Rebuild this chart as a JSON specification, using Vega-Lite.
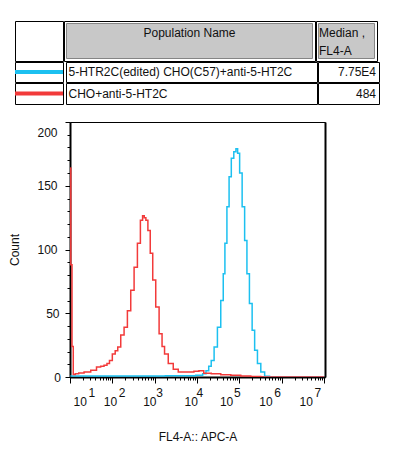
{
  "$schema": "https://vega.github.io/schema/vega-lite/v6.json",
  "padding": {"left": 8, "top": 20, "right": 5, "bottom": 5},
  "background": "white",
  "config": {
    "font": "Liberation Sans",
    "view": {"stroke": "black", "strokeWidth": 1},
    "text": {"font": "Liberation Sans", "fontSize": 12, "color": "#111111"},
    "axis": {
      "labelFont": "Liberation Sans", "titleFont": "Liberation Sans",
      "labelColor": "#111111", "titleColor": "#111111", "titleFontWeight": "normal",
      "labelFontSize": 12, "titleFontSize": 12,
      "domainColor": "black", "tickColor": "black", "grid": false
    }
  },
  "datasets": {
    "hdr": [
      {"col": "swatch", "label": ""},
      {"col": "name", "label": "Population Name"},
      {"col": "median", "label": "Median ,\nFL4-A"}
    ],
    "tbl": [
      {"row": 1, "population": "5-HTR2C(edited) CHO(C57)+anti-5-HT2C", "median": "7.75E4"},
      {"row": 2, "population": "CHO+anti-5-HT2C", "median": "484"}
    ],
    "hist": [
      {"population": "5-HTR2C(edited) CHO(C57)+anti-5-HT2C", "fl4": 10.2, "count": 0.8},
      {"population": "5-HTR2C(edited) CHO(C57)+anti-5-HT2C", "fl4": 100, "count": 0.8},
      {"population": "5-HTR2C(edited) CHO(C57)+anti-5-HT2C", "fl4": 800, "count": 0.8},
      {"population": "5-HTR2C(edited) CHO(C57)+anti-5-HT2C", "fl4": 4000, "count": 1},
      {"population": "5-HTR2C(edited) CHO(C57)+anti-5-HT2C", "fl4": 7110, "count": 1},
      {"population": "5-HTR2C(edited) CHO(C57)+anti-5-HT2C", "fl4": 12250, "count": 1.3},
      {"population": "5-HTR2C(edited) CHO(C57)+anti-5-HT2C", "fl4": 15000, "count": 2.5},
      {"population": "5-HTR2C(edited) CHO(C57)+anti-5-HT2C", "fl4": 17600, "count": 5},
      {"population": "5-HTR2C(edited) CHO(C57)+anti-5-HT2C", "fl4": 20200, "count": 8.5},
      {"population": "5-HTR2C(edited) CHO(C57)+anti-5-HT2C", "fl4": 23100, "count": 13},
      {"population": "5-HTR2C(edited) CHO(C57)+anti-5-HT2C", "fl4": 27650, "count": 23.5},
      {"population": "5-HTR2C(edited) CHO(C57)+anti-5-HT2C", "fl4": 33100, "count": 39},
      {"population": "5-HTR2C(edited) CHO(C57)+anti-5-HT2C", "fl4": 39800, "count": 60},
      {"population": "5-HTR2C(edited) CHO(C57)+anti-5-HT2C", "fl4": 43400, "count": 81},
      {"population": "5-HTR2C(edited) CHO(C57)+anti-5-HT2C", "fl4": 47650, "count": 105},
      {"population": "5-HTR2C(edited) CHO(C57)+anti-5-HT2C", "fl4": 54000, "count": 133.5},
      {"population": "5-HTR2C(edited) CHO(C57)+anti-5-HT2C", "fl4": 60300, "count": 157},
      {"population": "5-HTR2C(edited) CHO(C57)+anti-5-HT2C", "fl4": 68700, "count": 171.5},
      {"population": "5-HTR2C(edited) CHO(C57)+anti-5-HT2C", "fl4": 79100, "count": 176.7},
      {"population": "5-HTR2C(edited) CHO(C57)+anti-5-HT2C", "fl4": 86700, "count": 179},
      {"population": "5-HTR2C(edited) CHO(C57)+anti-5-HT2C", "fl4": 95100, "count": 175.4},
      {"population": "5-HTR2C(edited) CHO(C57)+anti-5-HT2C", "fl4": 107900, "count": 160},
      {"population": "5-HTR2C(edited) CHO(C57)+anti-5-HT2C", "fl4": 124800, "count": 133.5},
      {"population": "5-HTR2C(edited) CHO(C57)+anti-5-HT2C", "fl4": 141500, "count": 107},
      {"population": "5-HTR2C(edited) CHO(C57)+anti-5-HT2C", "fl4": 160300, "count": 81},
      {"population": "5-HTR2C(edited) CHO(C57)+anti-5-HT2C", "fl4": 185700, "count": 57.6},
      {"population": "5-HTR2C(edited) CHO(C57)+anti-5-HT2C", "fl4": 215100, "count": 36.7},
      {"population": "5-HTR2C(edited) CHO(C57)+anti-5-HT2C", "fl4": 243800, "count": 21},
      {"population": "5-HTR2C(edited) CHO(C57)+anti-5-HT2C", "fl4": 291800, "count": 10.5},
      {"population": "5-HTR2C(edited) CHO(C57)+anti-5-HT2C", "fl4": 351000, "count": 4},
      {"population": "5-HTR2C(edited) CHO(C57)+anti-5-HT2C", "fl4": 443700, "count": 0.5},
      {"population": "5-HTR2C(edited) CHO(C57)+anti-5-HT2C", "fl4": 600000, "count": 0},
      {"population": "5-HTR2C(edited) CHO(C57)+anti-5-HT2C", "fl4": 10000000, "count": 0},
      {"population": "CHO+anti-5-HT2C", "fl4": 10.1, "count": 164},
      {"population": "CHO+anti-5-HT2C", "fl4": 10.8, "count": 88},
      {"population": "CHO+anti-5-HT2C", "fl4": 11.5, "count": 24},
      {"population": "CHO+anti-5-HT2C", "fl4": 12.4, "count": 2},
      {"population": "CHO+anti-5-HT2C", "fl4": 14.4, "count": 2.5},
      {"population": "CHO+anti-5-HT2C", "fl4": 17.9, "count": 3.1},
      {"population": "CHO+anti-5-HT2C", "fl4": 25.8, "count": 4},
      {"population": "CHO+anti-5-HT2C", "fl4": 36.9, "count": 5.3},
      {"population": "CHO+anti-5-HT2C", "fl4": 48.4, "count": 7.9},
      {"population": "CHO+anti-5-HT2C", "fl4": 58, "count": 8.5},
      {"population": "CHO+anti-5-HT2C", "fl4": 69.7, "count": 9.2},
      {"population": "CHO+anti-5-HT2C", "fl4": 80, "count": 10.5},
      {"population": "CHO+anti-5-HT2C", "fl4": 91.5, "count": 13},
      {"population": "CHO+anti-5-HT2C", "fl4": 109, "count": 18},
      {"population": "CHO+anti-5-HT2C", "fl4": 125, "count": 20.5},
      {"population": "CHO+anti-5-HT2C", "fl4": 144, "count": 23.5},
      {"population": "CHO+anti-5-HT2C", "fl4": 173, "count": 33},
      {"population": "CHO+anti-5-HT2C", "fl4": 207, "count": 39},
      {"population": "CHO+anti-5-HT2C", "fl4": 248, "count": 52},
      {"population": "CHO+anti-5-HT2C", "fl4": 298, "count": 68},
      {"population": "CHO+anti-5-HT2C", "fl4": 357, "count": 86},
      {"population": "CHO+anti-5-HT2C", "fl4": 427, "count": 105},
      {"population": "CHO+anti-5-HT2C", "fl4": 494, "count": 123},
      {"population": "CHO+anti-5-HT2C", "fl4": 542, "count": 126.5},
      {"population": "CHO+anti-5-HT2C", "fl4": 591, "count": 125},
      {"population": "CHO+anti-5-HT2C", "fl4": 649, "count": 123},
      {"population": "CHO+anti-5-HT2C", "fl4": 735, "count": 115},
      {"population": "CHO+anti-5-HT2C", "fl4": 838, "count": 97},
      {"population": "CHO+anti-5-HT2C", "fl4": 964, "count": 76},
      {"population": "CHO+anti-5-HT2C", "fl4": 1161, "count": 55},
      {"population": "CHO+anti-5-HT2C", "fl4": 1390, "count": 34},
      {"population": "CHO+anti-5-HT2C", "fl4": 1600, "count": 24},
      {"population": "CHO+anti-5-HT2C", "fl4": 1824, "count": 18},
      {"population": "CHO+anti-5-HT2C", "fl4": 2394, "count": 10.5},
      {"population": "CHO+anti-5-HT2C", "fl4": 3142, "count": 6},
      {"population": "CHO+anti-5-HT2C", "fl4": 4122, "count": 4},
      {"population": "CHO+anti-5-HT2C", "fl4": 7110, "count": 4},
      {"population": "CHO+anti-5-HT2C", "fl4": 10000, "count": 4.5},
      {"population": "CHO+anti-5-HT2C", "fl4": 12250, "count": 5},
      {"population": "CHO+anti-5-HT2C", "fl4": 16950, "count": 3},
      {"population": "CHO+anti-5-HT2C", "fl4": 27650, "count": 2.6},
      {"population": "CHO+anti-5-HT2C", "fl4": 47650, "count": 1.8},
      {"population": "CHO+anti-5-HT2C", "fl4": 82100, "count": 1.3},
      {"population": "CHO+anti-5-HT2C", "fl4": 141500, "count": 0.8},
      {"population": "CHO+anti-5-HT2C", "fl4": 243800, "count": 0.4},
      {"population": "CHO+anti-5-HT2C", "fl4": 420000, "count": 0},
      {"population": "CHO+anti-5-HT2C", "fl4": 10000000, "count": 0}
    ]
  },
  "vconcat": [
    {
      "vconcat": [
        {
          "hconcat": [
            {
              "width": 48, "height": 40,
              "data": {"name": "hdr"},
              "transform": [{"filter": "datum.col == 'swatch'"}],
              "mark": {"type": "text"},
              "encoding": {
                "text": {"field": "label"},
                "x": {"field": "col", "type": "nominal", "axis": null}
              }
            },
            {
              "width": 251, "height": 40,
              "data": {"name": "hdr"},
              "transform": [{"filter": "datum.col == 'name'"}],
              "layer": [
                {
                  "mark": {"type": "rect", "fill": "#c8c8c8", "stroke": "#858585", "strokeWidth": 1},
                  "encoding": {
                    "x": {"field": "col", "type": "nominal", "axis": null, "scale": {"paddingInner": 0, "paddingOuter": 0.0102}},
                    "y": {"field": "col", "type": "nominal", "axis": null, "scale": {"paddingInner": 0, "paddingOuter": 0.0714}}
                  }
                },
                {
                  "mark": {"type": "text", "dy": -8},
                  "encoding": {"text": {"field": "label"}}
                }
              ]
            },
            {
              "width": 61, "height": 40,
              "data": {"name": "hdr"},
              "transform": [{"filter": "datum.col == 'median'"}],
              "layer": [
                {
                  "mark": {"type": "rect", "fill": "#c8c8c8", "stroke": "#858585", "strokeWidth": 1},
                  "encoding": {
                    "x": {"field": "col", "type": "nominal", "axis": null, "scale": {"paddingInner": 0, "paddingOuter": 0.0446}},
                    "y": {"field": "col", "type": "nominal", "axis": null, "scale": {"paddingInner": 0, "paddingOuter": 0.0714}}
                  }
                },
                {
                  "mark": {"type": "text", "align": "left", "lineBreak": "\n", "lineHeight": 18, "dx": 3, "dy": -8},
                  "encoding": {
                    "text": {"field": "label"},
                    "x": {"field": "col", "type": "nominal", "axis": null, "scale": {"padding": 0, "align": 0}}
                  }
                }
              ],
              "resolve": {"scale": {"x": "independent"}}
            }
          ],
          "spacing": -2
        },
        {
          "hconcat": [
            {
              "width": 48, "height": 20,
              "data": {"name": "tbl"},
              "transform": [{"filter": "datum.row == 1"}],
              "mark": {"type": "rule", "strokeWidth": 4},
              "encoding": {
                "y": {"field": "population", "type": "nominal", "axis": null},
                "color": {"field": "population", "type": "nominal", "legend": null,
                  "scale": {"domain": ["5-HTR2C(edited) CHO(C57)+anti-5-HT2C", "CHO+anti-5-HT2C"], "range": ["#1cc0f0", "#f23a3a"]}}
              }
            },
            {
              "width": 251, "height": 20,
              "data": {"name": "tbl"},
              "transform": [{"filter": "datum.row == 1"}],
              "mark": {"type": "text", "align": "left", "dx": 2.5},
              "encoding": {
                "text": {"field": "population"},
                "x": {"field": "population", "type": "nominal", "axis": null, "scale": {"padding": 0, "align": 0}}
              }
            },
            {
              "width": 61, "height": 20,
              "data": {"name": "tbl"},
              "transform": [{"filter": "datum.row == 1"}],
              "mark": {"type": "text", "align": "right", "dx": -3},
              "encoding": {
                "text": {"field": "median"},
                "x": {"field": "median", "type": "nominal", "axis": null, "scale": {"padding": 0, "align": 1}}
              }
            }
          ],
          "spacing": -2
        },
        {
          "hconcat": [
            {
              "width": 48, "height": 21,
              "data": {"name": "tbl"},
              "transform": [{"filter": "datum.row == 2"}],
              "mark": {"type": "rule", "strokeWidth": 4},
              "encoding": {
                "y": {"field": "population", "type": "nominal", "axis": null},
                "color": {"field": "population", "type": "nominal", "legend": null,
                  "scale": {"domain": ["5-HTR2C(edited) CHO(C57)+anti-5-HT2C", "CHO+anti-5-HT2C"], "range": ["#1cc0f0", "#f23a3a"]}}
              }
            },
            {
              "width": 251, "height": 21,
              "data": {"name": "tbl"},
              "transform": [{"filter": "datum.row == 2"}],
              "mark": {"type": "text", "align": "left", "dx": 2.5},
              "encoding": {
                "text": {"field": "population"},
                "x": {"field": "population", "type": "nominal", "axis": null, "scale": {"padding": 0, "align": 0}}
              }
            },
            {
              "width": 61, "height": 21,
              "data": {"name": "tbl"},
              "transform": [{"filter": "datum.row == 2"}],
              "mark": {"type": "text", "align": "right", "dx": -3},
              "encoding": {
                "text": {"field": "median"},
                "x": {"field": "median", "type": "nominal", "axis": null, "scale": {"padding": 0, "align": 1}}
              }
            }
          ],
          "spacing": -2
        }
      ],
      "spacing": -2
    },
    {
      "hconcat": [
        {
          "width": 55, "height": 10,
          "data": {"name": "hdr"},
          "transform": [{"filter": "datum.col == 'swatch'"}],
          "mark": {"type": "text"},
          "encoding": {"text": {"field": "label"}}
        },
        {
          "width": 255, "height": 255,
          "data": {"name": "hist"},
          "layer": [
            {
              "mark": {"type": "line", "interpolate": "step", "strokeWidth": 1.5, "clip": true},
              "encoding": {
                "x": {
                  "field": "fl4", "type": "quantitative",
                  "scale": {"type": "log", "domain": [10, 10500000], "nice": false},
                  "axis": {
                    "orient": "bottom",
                    "title": "FL4-A:: APC-A",
                    "values": [10,20,30,40,50,60,70,80,90,100,200,300,400,500,600,700,800,900,1000,2000,3000,4000,5000,6000,7000,8000,9000,10000,20000,30000,40000,50000,60000,70000,80000,90000,100000,200000,300000,400000,500000,600000,700000,800000,900000,1000000,2000000,3000000,4000000,5000000,6000000,7000000,8000000,9000000,10000000],
                    "domainWidth": 2,
                    "tickSize": {"condition": {"test": "abs(log(datum.value)/LN10 - round(log(datum.value)/LN10)) < 0.001", "value": 6}, "value": 3},
                    "labelExpr": "abs(log(datum.value)/LN10 - round(log(datum.value)/LN10)) < 0.001 ? '10' : ''",
                    "labelAlign": "left",
                    "labelBaseline": "alphabetic",
                    "labelOffset": {"expr": "[3,-9,-12,-13,-20,-23,-25][round(log(datum.value)/LN10)-1]"},
                    "labelPadding": 22,
                    "labelFlush": false,
                    "labelOverlap": false,
                    "titlePadding": 24
                  }
                },
                "y": {
                  "field": "count", "type": "quantitative",
                  "scale": {"domain": [0, 200], "nice": false},
                  "axis": {
                    "title": "Count",
                    "values": [0,10,20,30,40,50,60,70,80,90,100,110,120,130,140,150,160,170,180,190,200],
                    "domainWidth": 2,
                    "tickSize": {"condition": {"test": "datum.value % 50 == 0", "value": 5}, "value": 3},
                    "labelExpr": "datum.value % 50 == 0 ? datum.label : ''",
                    "labelOffset": {"condition": {"test": "datum.value == 200", "value": 10}, "value": 0},
                    "labelPadding": {"expr": "datum.value >= 100 ? 8 : datum.value >= 10 ? 6 : 4.5"},
                    "labelFlush": false,
                    "labelOverlap": false,
                    "titlePadding": 15
                  }
                },
                "color": {"field": "population", "type": "nominal", "legend": null,
                  "scale": {"domain": ["5-HTR2C(edited) CHO(C57)+anti-5-HT2C", "CHO+anti-5-HT2C"], "range": ["#1cc0f0", "#f23a3a"]}}
              }
            },
            {
              "mark": {"type": "line", "opacity": 0},
              "encoding": {
                "x": {
                  "field": "fl4", "type": "quantitative",
                  "axis": {
                    "orient": "bottom",
                    "title": null,
                    "domain": false,
                    "ticks": false,
                    "values": [10,100,1000,10000,100000,1000000,10000000],
                    "labelExpr": "'' + round(log(datum.value)/LN10)",
                    "labelAlign": "left",
                    "labelBaseline": "alphabetic",
                    "labelOffset": {"expr": "[18,6,1,-1,-6,-8,-10][round(log(datum.value)/LN10)-1]"},
                    "labelPadding": 19,
                    "labelFlush": false,
                    "labelOverlap": false
                  }
                },
                "y": {
                  "field": "count", "type": "quantitative",
                  "axis": {"orient": "right", "labels": false, "ticks": false, "title": null, "domainWidth": 2, "domainColor": "black"}
                },
                "detail": {"field": "population"}
              }
            }
          ],
          "resolve": {"axis": {"y": "independent", "x": "independent"}}
        }
      ],
      "spacing": 0,
      "bounds": "flush"
    }
  ],
  "spacing": 16
}
